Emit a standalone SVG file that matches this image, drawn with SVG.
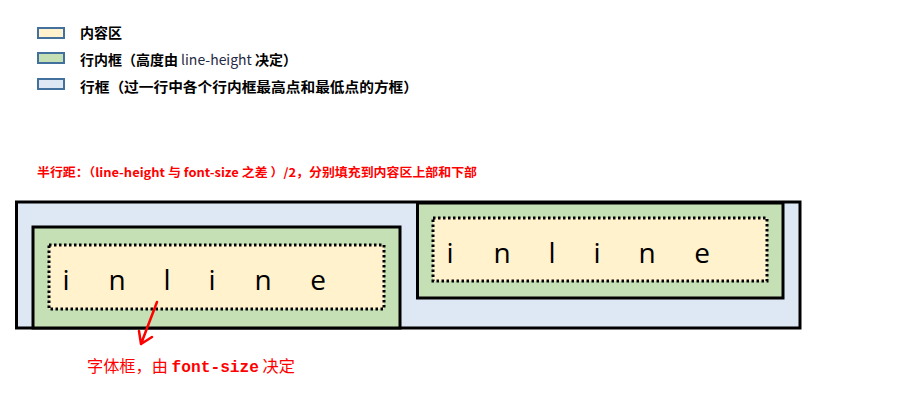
<svg xmlns="http://www.w3.org/2000/svg" width="922" height="408" viewBox="0 0 922 408">
<style>
.sw{stroke:#41719c;stroke-width:2}
.lg{font-family:"Noto Sans CJK SC","Noto Sans",sans-serif;font-size:14px;font-weight:bold;fill:#000}
.box{stroke:#000;stroke-width:3}
.dot{fill:#fff2cc;stroke:#000;stroke-width:3;stroke-dasharray:2.5 2.5}
.il{font-family:"Open Sans","Liberation Sans",sans-serif;font-size:28px;fill:#000;text-anchor:middle}
.red{fill:#ff0000;font-family:"Noto Sans CJK SC",sans-serif}
</style>
<rect width="922" height="408" fill="#fff"/>
<g id="legend">
<rect class="sw" x="38" y="28" width="26" height="10" fill="#fff2cc"/>
<rect class="sw" x="38" y="53" width="26" height="10" fill="#c5e0b4"/>
<rect class="sw" x="38" y="79" width="26" height="10" fill="#dee8f4"/>
<text class="lg" x="80" y="38">内容区</text>
<text class="lg" x="80" y="65" textLength="217" lengthAdjust="spacingAndGlyphs">行内框（高度由 <tspan font-weight="normal" fill="#1f2a44">line-height</tspan> 决定）</text>
<text class="lg" x="80" y="92" textLength="338" lengthAdjust="spacingAndGlyphs">行框（过一行中各个行内框最高点和最低点的方框）</text>
</g>
<text class="red" x="37" y="177" font-size="12" font-weight="bold" textLength="440" lengthAdjust="spacingAndGlyphs">半行距：（line-height 与 font-size 之差 ）/2，分别填充到内容区上部和下部</text>
<g id="line-box">
<rect class="box" x="16.5" y="202" width="783.5" height="126" fill="#dee8f4"/>
</g>
<g id="inline-box-left">
<rect class="box" x="33" y="227" width="367" height="101" fill="#c5e0b4"/>
<rect class="dot" x="49" y="245" width="335" height="64"/>
<text class="il" x="66 117 167 212 263 318" y="290">inline</text>
</g>
<g id="inline-box-right">
<rect class="box" x="417.5" y="203" width="365.5" height="95" fill="#c5e0b4"/>
<rect class="dot" x="433" y="218" width="334" height="63"/>
<text class="il" x="450 502 552 597 647 702" y="263">inline</text>
</g>
<g id="connectors">
<path d="M157 302 L141 344 M139 331 L141 344 L152 337" fill="none" stroke="#ff0000" stroke-width="2.5" stroke-linecap="round" stroke-linejoin="round"/>
</g>
<g id="font-box-label">
<text class="red" x="87" y="372" font-size="16" textLength="208" lengthAdjust="spacingAndGlyphs">字体框，由 <tspan font-family="'Liberation Mono',monospace" font-weight="bold">font-size</tspan> 决定</text>
</g>
</svg>
